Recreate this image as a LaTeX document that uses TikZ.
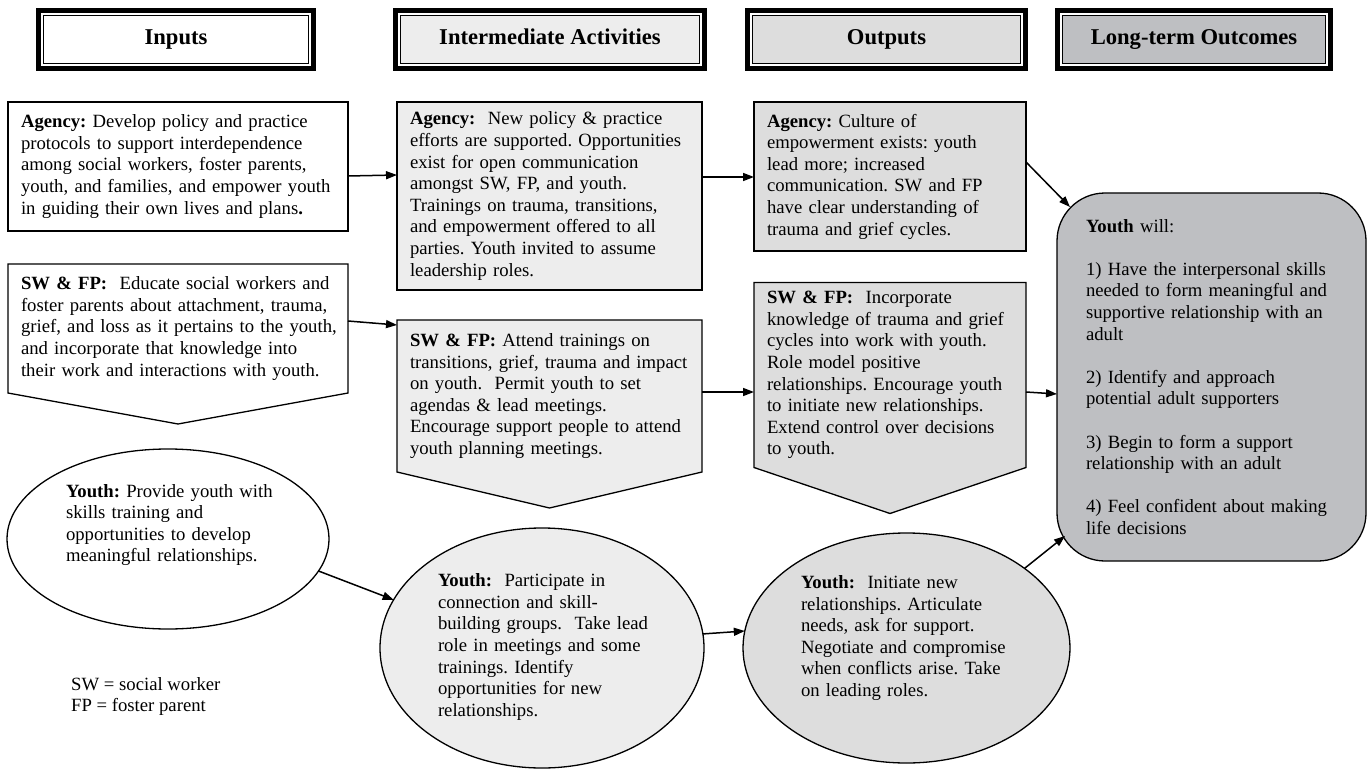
\documentclass[tikz,border=0pt]{standalone}
\usepackage{fontspec}
\setmainfont{Liberation Serif}
\usetikzlibrary{arrows.meta,calc,shapes.geometric,backgrounds}

\definecolor{intfill}{gray}{0.93}
\definecolor{outfill}{gray}{0.865}
\definecolor{longfill}{RGB}{190,191,194}
\newcommand{\bodysize}{\fontsize{18.7}{21.6}\selectfont\frenchspacing}
\newcommand{\headsize}{\fontsize{22.6}{26}\selectfont\bfseries}

\begin{document}
\begin{tikzpicture}[x=1pt, y=-1pt,
  head/.style={minimum height=47pt, inner sep=0pt, outer sep=0pt, font=\headsize, fill=#1,
    text height=16pt, text depth=5pt,
    preaction={draw, line width=16pt}, preaction={draw=white, line width=6pt},
    preaction={draw, line width=2pt}},
  card/.style={draw, line width=1.3pt, outer sep=0pt, inner xsep=13pt, inner ysep=0pt,
    align=left, font=\bodysize, fill=#1},
  pentcard/.style={outer sep=0pt, inner xsep=13pt, inner ysep=0pt, align=left, font=\bodysize},
  pent/.style={draw, line width=1.3pt, line join=miter},
  oval/.style={ellipse, draw, line width=1.3pt, inner sep=0pt, outer sep=0pt, fill=#1},
  ovaltext/.style={align=left, font=\bodysize, inner sep=0pt},
  conn/.style={line width=1.5pt, -{Triangle[length=11pt,width=8pt]}}]
  \useasboundingbox (0,0) rectangle (1371,770);

  % column headings
  \node[head=white, minimum width=264pt] (hinputs) at (176,39.5) {Inputs};
  \node[head=intfill, minimum width=298pt] (hinter) at (550,39.5) {Intermediate Activities};
  \node[head=outfill, minimum width=267pt] (houtputs) at (886.5,39.5) {Outputs};
  \node[head=longfill, minimum width=262pt] (hlong) at (1194,39.5) {Long-term Outcomes};

  % agency row
  \node[card=white, text width=314pt, minimum height=129pt] (inagency) at (178,166.5)
    {\textbf{Agency:} Develop policy and practice\\ protocols to support interdependence\\
     among social workers, foster parents,\\ youth, and families, and empower youth\\
     in guiding their own lives and plans\textbf{.}};
  \node[card=intfill, text width=279pt, minimum height=188pt] (intagency) at (549.5,196)
    {\textbf{Agency:}~ New policy \& practice\\ efforts are supported. Opportunities\\
     exist for open communication\\ amongst SW, FP, and youth.\\
     Trainings on trauma, transitions,\\ and empowerment offered to all\\
     parties. Youth invited to assume\\ leadership roles.};
  \node[card=outfill, text width=246pt, minimum height=149pt] (outagency) at (890,176.5)
    {\textbf{Agency:} Culture of\\ empowerment exists: youth\\ lead more; increased\\
     communication. SW and FP\\ have clear understanding of\\ trauma and grief cycles.};

  % social worker and foster parent row
  \node[pentcard, text width=314pt, minimum width=340pt, minimum height=129pt] (insw) at (178,328.5)
    {\textbf{SW \& FP:}~ Educate social workers and\\ foster parents about attachment, trauma,\\
     \mbox{grief, and loss as it pertains to the youth,}\\ and incorporate that knowledge into\\
     their work and interactions with youth.};
  \node[pentcard, text width=279pt, minimum width=305pt, minimum height=152pt] (intsw) at (549.5,396)
    {\textbf{SW \& FP:} Attend trainings on\\ transitions, grief, trauma and impact\\
     on youth.~ Permit youth to set\\ agendas \& lead meetings.\\
     Encourage support people to attend\\ youth planning meetings.};
  \node[pentcard, text width=246pt, minimum width=272pt, minimum height=185pt] (outsw) at (890,375)
    {\textbf{SW \& FP:}~ Incorporate\\ knowledge of trauma and grief\\ cycles into work with youth.\\
     Role model positive\\ relationships. Encourage youth\\ to initiate new relationships.\\
     Extend control over decisions\\ to youth.};
  \begin{scope}[on background layer]
    \draw[pent, fill=white] (insw.north west) -- (insw.north east) -- (insw.south east)
      -- ($(insw.south)+(0,31)$) -- (insw.south west) -- cycle;
    \draw[pent, fill=intfill] (intsw.north west) -- (intsw.north east) -- (intsw.south east)
      -- ($(intsw.south)+(0,36)$) -- (intsw.south west) -- cycle;
    \draw[pent, fill=outfill] (outsw.north west) -- (outsw.north east) -- (outsw.south east)
      -- ($(outsw.south)+(0,46)$) -- (outsw.south west) -- cycle;
  \end{scope}

  % youth row
  \node[oval=white, minimum width=322pt, minimum height=180pt] (inyouth) at (168,539) {};
  \node[ovaltext, text width=212pt] at (172,525)
    {\textbf{Youth:} Provide youth with\\ skills training and\\ opportunities to develop\\
     meaningful relationships.};
  \node[oval=intfill, minimum width=324pt, minimum height=240pt] (intyouth) at (542,648) {};
  \node[ovaltext, text width=214pt] at (545,647)
    {\textbf{Youth:}~ Participate in\\ connection and skill-\\ building groups.~ Take lead\\
     role in meetings and some\\ trainings. Identify\\ opportunities for new\\ relationships.};
  \node[oval=outfill, minimum width=327pt, minimum height=230pt] (outyouth) at (906.5,648) {};
  \node[ovaltext, text width=212pt] at (907,638)
    {\textbf{Youth:}~ Initiate new\\ relationships. Articulate\\ needs, ask for support.\\
     Negotiate and compromise\\ when conflicts arise. Take\\ on leading roles.};

  % long-term outcomes
  \node[card=longfill, rounded corners=48pt, text width=251pt, inner xsep=29pt,
        minimum height=368pt] (longterm) at (1211.5,377)
    {\textbf{Youth} will:\\[21.6pt]
     1) Have the interpersonal skills\\ needed to form meaningful and\\
     supportive relationship with an\\ adult\\[21.6pt]
     2) Identify and approach\\ potential adult supporters\\[21.6pt]
     3) Begin to form a support\\ relationship with an adult\\[21.6pt]
     4) Feel confident about making\\ life decisions};

  \node[ovaltext, anchor=north west] (legend) at (71,677) {SW = social worker\\ FP = foster parent};

  % connectors
  \draw[conn] ($(inagency.east)+(0,9.5)$) -- ($(intagency.west)+(0,-21)$);
  \draw[conn] ($(intagency.east)+(0,-19)$) -- ($(outagency.west)+(0,0.5)$);
  \draw[conn] ($(outagency.east)+(0,-14.5)$) -- ($(longterm.north west)+(13,14)$);
  \draw[conn] ($(insw.east)+(0,-7.5)$) -- ($(intsw.north west)+(0,5)$);
  \draw[conn] ($(intsw.east)+(0,-4)$) -- ($(outsw.west)+(0,17)$);
  \draw[conn] ($(outsw.east)+(0,17)$) -- ($(longterm.west)+(0,17)$);
  \draw[conn] (inyouth.-12.7) -- (intyouth.162.3);
  \draw[conn] (intyouth.5.3) -- (outyouth.174.7);
  \draw[conn] (outyouth.34.8) -- ($(longterm.south west)+(8,-25)$);
\end{tikzpicture}
\end{document}
